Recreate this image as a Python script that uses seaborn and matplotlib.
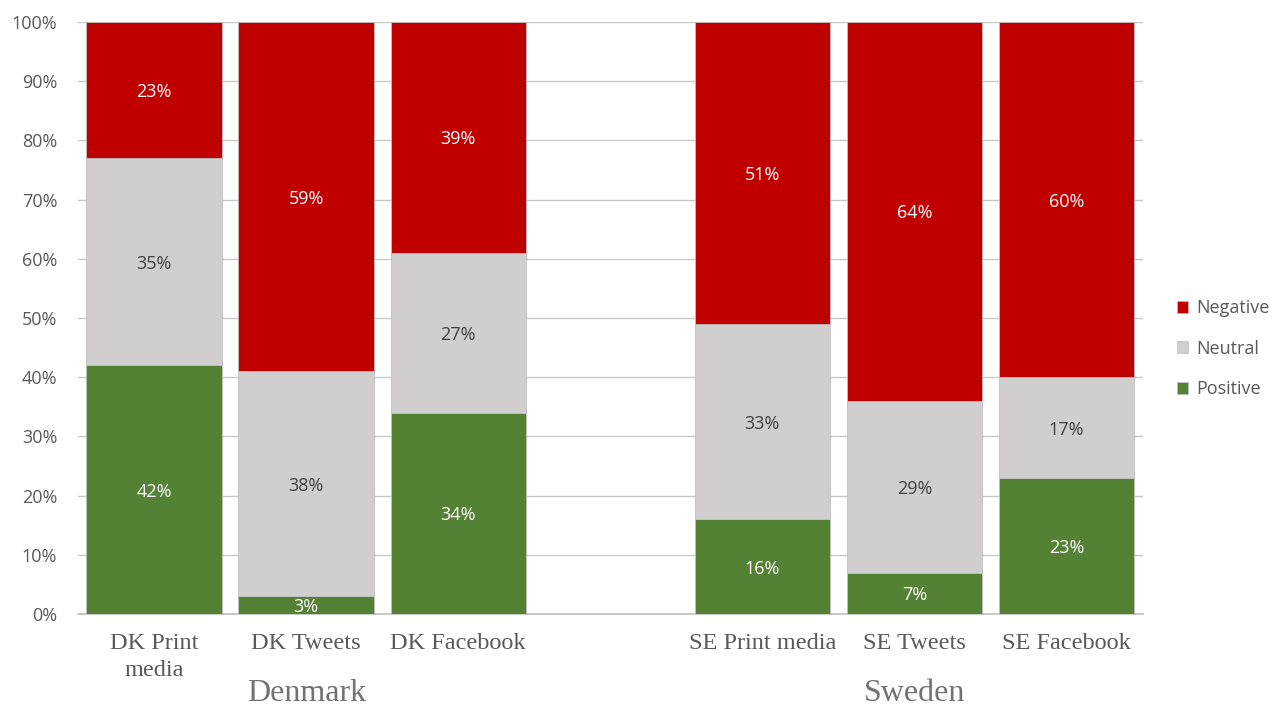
import matplotlib
matplotlib.use("Agg")
import matplotlib.pyplot as plt
import seaborn as sns
import pandas as pd
from matplotlib.patches import Patch

categories = ["DK Print media", "DK Tweets", "DK Facebook",
              "SE Print media", "SE Tweets", "SE Facebook"]
tick_labels = ["DK Print\nmedia", "DK Tweets", "DK Facebook",
               "", "SE Print media", "SE Tweets", "SE Facebook"]
positive = [42, 3, 34, 16, 7, 23]
neutral = [35, 38, 27, 33, 29, 17]
negative = [23, 59, 39, 51, 64, 60]
groups = ["Denmark", "Sweden"]
y_ticks = [0, 10, 20, 30, 40, 50, 60, 70, 80, 90, 100]

colors = {"Positive": "#548235", "Neutral": "#D0CECE", "Negative": "#C00000"}
label_colors = {"Positive": "white", "Neutral": "#404040", "Negative": "white"}

sns.set_theme(style="white")
plt.rcParams["font.family"] = ["Open Sans", "DejaVu Sans"]

fig = plt.figure(figsize=(12.88, 7.06), dpi=100)
ax = fig.add_axes([0.0606, 0.1303, 0.8265, 0.8385])

order = categories[:3] + [" "] + categories[3:]
df = pd.DataFrame({"cat": categories, "Positive": positive,
                   "Neutral": neutral, "Negative": negative})
df["bot_neu"] = df["Positive"]
df["bot_neg"] = df["Positive"] + df["Neutral"]

common = dict(x="cat", order=order, ax=ax, width=0.89, errorbar=None,
              edgecolor="#BFBFBF", linewidth=0.6, zorder=3)
sns.barplot(data=df, y="Positive", color=colors["Positive"], saturation=1, **common)
sns.barplot(data=df, y="Neutral", bottom=df["bot_neu"].values,
            color=colors["Neutral"], saturation=1, **common)
sns.barplot(data=df, y="Negative", bottom=df["bot_neg"].values,
            color=colors["Negative"], saturation=1, **common)

# data labels
for series, bots in [("Positive", [0] * len(categories)),
                     ("Neutral", list(df["bot_neu"])),
                     ("Negative", list(df["bot_neg"]))]:
    for cat, v, b in zip(categories, df[series], bots):
        xi = order.index(cat)
        ax.text(xi, b + v / 2, f"{v}%", ha="center", va="center_baseline",
                fontsize=13, color=label_colors[series], zorder=5)

ax.set_ylim(0, 100)
ax.set_xlim(-0.5, len(order) - 0.5)
ax.set_yticks(y_ticks)
ax.set_yticklabels([f"{t}%" for t in y_ticks], color="#595959", fontsize=13)
ax.set_xticks(range(len(order)))
ax.set_xticklabels(tick_labels, fontsize=17.5, color="#595959",
                   family=["Liberation Serif", "DejaVu Serif"], linespacing=1.35)
ax.tick_params(axis="y", length=0, pad=15)
ax.tick_params(axis="x", length=0, pad=14)
ax.set_xlabel("")
ax.set_ylabel("")
ax.yaxis.grid(True, color="#C8C8C8", linewidth=1, zorder=0)
ax.set_axisbelow(True)
for s in ["top", "right", "left"]:
    ax.spines[s].set_visible(False)
ax.spines["bottom"].set_color("#BFBFBF")
ax.spines["bottom"].set_linewidth(1.2)

# group labels
for name, xc in zip(groups, [1, 5]):
    ax.text(xc, -0.135, name, transform=ax.get_xaxis_transform(), ha="center",
            va="center", fontsize=23, color="#767171",
            family=["Liberation Serif", "DejaVu Serif"])

handles = [Patch(facecolor=colors[k], edgecolor="#BFBFBF", linewidth=0.5, label=k)
           for k in ["Negative", "Neutral", "Positive"]]
fig.legend(handles=handles, loc="center left", bbox_to_anchor=(0.901, 0.506),
           frameon=False, fontsize=13, labelcolor="#595959", handlelength=0.65,
           handleheight=0.65, handletextpad=0.45, labelspacing=1.25)

fig.savefig("out.png", dpi=100)
